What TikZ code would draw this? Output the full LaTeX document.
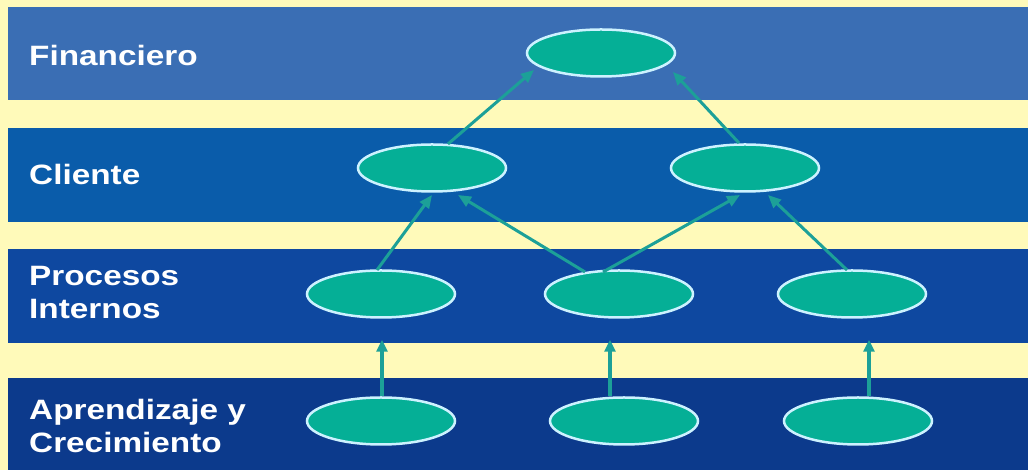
\documentclass[tikz,border=0pt]{standalone}
\usepackage{fontspec}
\setmainfont{Liberation Sans}
\newfontfamily\layerfont{Liberation Sans}[FakeStretch=1.19]
\usetikzlibrary{calc,positioning,shapes,arrows.meta}
\definecolor{paper}{RGB}{255,250,186}
\definecolor{bandA}{RGB}{58,110,180}
\definecolor{bandB}{RGB}{10,92,170}
\definecolor{bandC}{RGB}{14,72,160}
\definecolor{bandD}{RGB}{12,58,140}
\definecolor{goal}{RGB}{5,175,150}
\definecolor{goalrim}{RGB}{205,242,255}
\definecolor{link}{RGB}{28,160,152}

\begin{document}
\begin{tikzpicture}[x=1pt,y=1pt,
    goal/.style={ellipse,fill=goal,draw=goalrim,line width=2.5pt,
      minimum width=148pt,minimum height=47pt,inner sep=0pt},
    layer/.style={text=white,font=\layerfont\bfseries\fontsize{28}{33}\selectfont,
      inner sep=0pt,align=left},
    link/.style={draw=link,line width=3pt,-{Triangle[length=13pt,width=11pt]}},
    lift/.style={draw=link,line width=4.5pt,-{Triangle[length=12pt,width=11pt]}}]
    \useasboundingbox (0,0) rectangle (1028,470);
    \fill[paper] (0,0) rectangle (1028,470);
    % the four bands
    \fill[bandA] (8,370) rectangle (1028,463);
    \fill[bandB] (8,248) rectangle (1028,342);
    \fill[bandC] (8,127) rectangle (1028,221);
    \fill[bandD] (8,0) rectangle (1028,92);

    \node[layer,anchor=base west] (fin-t) at (29,404) {Financiero};
    \node[layer,anchor=base west] (cl-t) at (29,285) {Cliente};
    \node[layer,anchor=north west] (pr-t) at (29,203.5) {Procesos\\Internos};
    \node[layer,anchor=north west] (ap-t) at (29,70.5) {Aprendizaje y\\Crecimiento};

    \node[goal] (fin) at (601,417) {};
    \node[goal] (cl1) at (432,302) {};
    \node[goal] (cl2) at (745,302) {};
    \node[goal] (pr1) at (381,176) {};
    \node[goal] (pr2) at (619,176) {};
    \node[goal] (pr3) at (852,176) {};
    \node[goal] (ap1) at (381,49) {};
    \node[goal] (ap2) at (624,49) {};
    \node[goal] (ap3) at (858,49) {};

    \draw[lift] ($(ap1.north)+(1,0)$) -- ($(pr1.south)+(1,-21)$);
    \draw[lift] ($(ap2.north)+(-14,0)$) -- ($(pr2.south)+(-9,-21)$);
    \draw[lift] ($(ap3.north)+(11,0)$) -- ($(pr3.south)+(17,-21)$);

    \draw[link] ($(pr1)+(-4,24)$) -- ($(cl1)+(0,-27)$);
    \draw[link] ($(pr2)+(-34,22)$) -- ($(cl1)+(26,-27)$);
    \draw[link] ($(pr2)+(-16,22)$) -- ($(cl2)+(-5,-27)$);
    \draw[link] ($(pr3)+(-5,24)$) -- ($(cl2)+(23,-27)$);
    \draw[link] ($(cl1)+(16,24)$) -- ($(fin)+(-67,-17)$);
    \draw[link] ($(cl2)+(-6,25)$) -- ($(fin)+(72,-19)$);
\end{tikzpicture}
\end{document}
